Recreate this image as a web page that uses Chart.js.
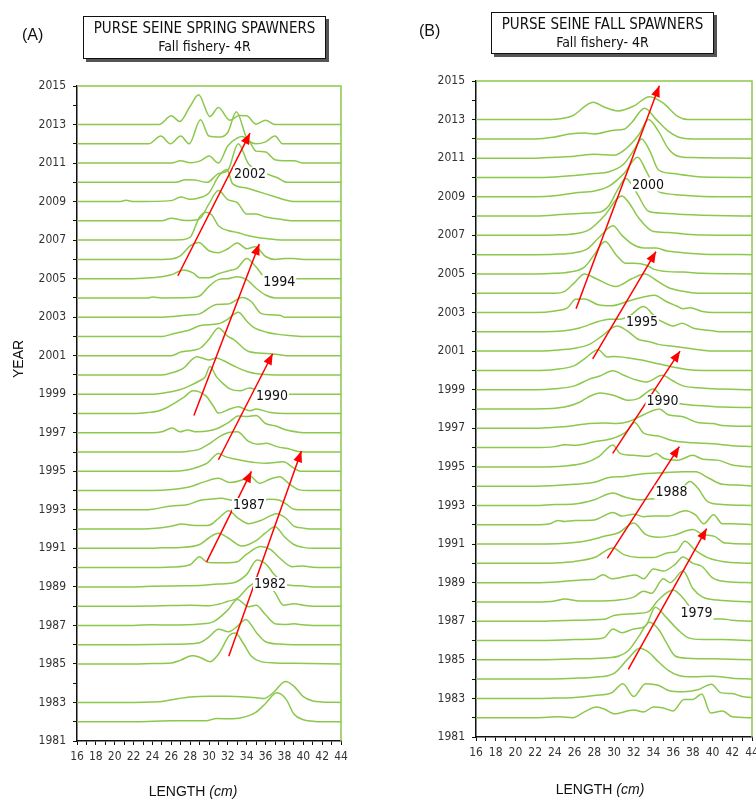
<!DOCTYPE html>
<html>
<head>
<meta charset="utf-8">
<script src="https://cdn.jsdelivr.net/npm/chart.js@4.4.1/dist/chart.umd.min.js"></script>
<style>
  body { margin: 0; background: #fff; }
  #page { position: relative; width: 756px; height: 800px; overflow: hidden; font-family: 'Liberation Sans', Arial, sans-serif; color: #111; }
  canvas { position: absolute; top: 0; }
  .tag { position: absolute; font-size: 16px; }
  .titlebox { position: absolute; border: 1.5px solid #111; background: #fff; box-shadow: 3px 3px 0 #555; text-align: center;
              font-family: 'Liberation Sans Narrow', 'DejaVu Sans Condensed', sans-serif; }
  .titlebox .l1 { font-size: 15px; margin-top: 2px; }
  .titlebox .l2 { font-size: 14px; margin-top: 1px; }
  .xlab { position: absolute; font-size: 14px; transform: translateX(-50%); white-space: nowrap; }
  .ylab { position: absolute; font-size: 14px; transform: rotate(-90deg); transform-origin: center; }
</style>
</head>
<body>
<div id="page">
  <canvas id="chartA" width="378" height="800" style="left:0"></canvas>
  <canvas id="chartB" width="378" height="800" style="left:378px"></canvas>

  <div class="tag" style="left:22px; top:26px">(A)</div>
  <div class="tag" style="left:419px; top:22px">(B)</div>

  <div class="titlebox" style="left:83px; top:16px; width:241px; height:41px">
    <div class="l1">PURSE SEINE SPRING SPAWNERS</div>
    <div class="l2">Fall fishery- 4R</div>
  </div>
  <div class="titlebox" style="left:491px; top:12px; width:221px; height:40px">
    <div class="l1">PURSE SEINE FALL SPAWNERS</div>
    <div class="l2">Fall fishery- 4R</div>
  </div>

  <div class="ylab" style="left:0px; top:352px; width:36px; text-align:center">YEAR</div>
  <div class="xlab" style="left:193px; top:783px">LENGTH <i>(cm)</i></div>
  <div class="xlab" style="left:600px; top:781px">LENGTH <i>(cm)</i></div>
</div>

<script>
// Length-frequency profiles: [length cm, height above the year baseline (in years)]

// Spring spawners
const A2013 = [[16,0],[24.7,0],[26,0.45],[26.9,0.16],[28,0.95],[28.9,1.54],[30.1,0.42],[31,0.88],[32.2,0.22],[33.2,0.47],[34,0.45],[35,0.02],[36,0.22],[37,0],[44,0]];
const A2012 = [[16,0],[23.6,0],[24.9,0.4],[25.9,0],[27,0.4],[27.9,0],[29.1,1.25],[30,0.4],[31.2,0.35],[32,0.6],[32.9,1.66],[34,0.3],[35,0],[36,0.1],[37,0.4],[37.8,0],[44,0]];
const A2011 = [[16,0],[26,0],[27,0.12],[28,0.02],[29,0.1],[30,0.36],[31,0],[32,0.9],[33,1.3],[33.5,1.38],[34.3,1.1],[35,0.62],[36,0.58],[37,0.17],[38,0.12],[39,0.12],[40,0],[44,0]];
const A2010 = [[16,0],[26.5,0],[27.5,0.14],[28.5,0.12],[29.8,0],[31,0.45],[32,0.62],[33.1,2.0],[34.2,0.95],[35.8,0.5],[37.2,0.25],[38.3,0],[44,0]];
const A2009 = [[16,0],[20.5,0],[21.2,0.07],[22,0],[26,0.05],[27,0.24],[28,0.12],[29,0.2],[30,0.45],[31,1.3],[31.9,1.66],[32.5,0.93],[34,0.7],[35,0.55],[36,0.4],[37,0.25],[38,0.1],[39,0],[44,0]];
const A2008 = [[16,0],[25,0],[26,0.14],[27,0.05],[28,0.02],[29,0.1],[30,0.88],[31,1.57],[32,1.1],[33,0.95],[34,0.35],[35,0.36],[36,0.2],[37,0.12],[38,0.05],[39,0],[44,0]];
const A2007 = [[16,0],[26,0],[27,0.02],[28,0.15],[29,1.2],[29.7,1.45],[30.3,1.3],[31,0.75],[32,0.5],[33,0.4],[34,0.25],[35,0.15],[36,0.08],[37,0.03],[38,0],[44,0]];
const A2006 = [[16,0],[25,0],[26,0.02],[27,0.2],[28,0.7],[28.9,0.87],[30,0.45],[31,0.35],[32,0.55],[33,0.85],[34,0.55],[34.9,0.65],[36,0.15],[37,0],[38,0.05],[39,0.05],[40,0],[44,0]];
const A2005 = [[16,0],[22,0],[23,0.02],[25,0.1],[26,0.2],[27.3,0.45],[28.3,0.3],[29,0.05],[30,0.05],[31,0.25],[32,0.4],[33,0.55],[34,1.05],[35,0.6],[36,0.05],[37,0],[44,0]];
const A2004 = [[16,0],[23.5,0],[24,0.05],[25,0],[28,0.02],[29,0.1],[30,0.6],[31,0.95],[32,1.0],[33,1.1],[34,0.95],[35,0.5],[36,0.15],[37,0],[44,0]];
const A2003 = [[16,0],[25,0],[26.5,0.05],[28.2,0.12],[29,0.17],[30.8,0.66],[32,0.68],[33.5,1.02],[34.5,0.8],[35.5,0.2],[36.5,0.12],[37.5,0.1],[38,0],[44,0]];
const A2002 = [[16,0],[25,0],[26.2,0.14],[28,0.35],[29.1,0.57],[31,0.66],[32,0.9],[33.1,1.26],[34,0.8],[34.7,0.48],[36.1,0.22],[37.2,0.12],[38.5,0.05],[40,0],[44,0]];
const A2001 = [[16,0],[26,0],[27,0.19],[28.3,0.28],[29.1,0.4],[30,0.85],[31,1.44],[32,1.0],[32.6,0.85],[34.2,0.22],[36.1,0.12],[37.5,0.05],[38.5,0],[44,0]];
const A2000 = [[16,0],[25,0],[26,0.1],[27.3,0.36],[28.7,0.95],[30,0.78],[30.8,0.88],[31.5,0.75],[32.6,0.48],[34.3,0.14],[36,0.02],[37,0],[44,0]];
const A1999 = [[16,0],[24,0],[25,0.05],[26.6,0.19],[28,0.45],[29,0.7],[29.6,0.9],[30.1,1.44],[30.8,0.9],[31.5,0.55],[32.2,0.28],[33.3,0.18],[34.3,0.33],[35.4,0.18],[36.5,0.05],[38,0],[44,0]];
const A1998 = [[16,0],[22,0],[23.5,0.05],[24.5,0.12],[25.5,0.3],[27.3,0.83],[28.3,1.18],[29.7,0.9],[30.5,0.35],[31,0.02],[32.2,0.23],[33.1,0.35],[34.3,0.14],[35,0.23],[36.5,0.05],[38,0],[44,0]];
const A1997 = [[16,0],[24,0],[25,0.05],[26.1,0.25],[26.9,0.05],[27.7,0.14],[28.7,0.05],[30,0.1],[31,0.25],[32.1,0.54],[33.1,0.87],[34.1,0.85],[35,0.9],[36,0.48],[37.1,0.35],[38.2,0.14],[39.5,0.03],[40.5,0],[44,0]];
const A1996 = [[16,0],[26,0],[27.7,0.03],[29,0.15],[30.1,0.45],[31.1,0.8],[32,1.0],[33,1.05],[34.2,0.55],[35.2,0.4],[36.1,0.45],[37.2,0.28],[38.6,0.15],[39.6,0.02],[44,0]];
const A1995 = [[16,0],[26,0],[27.7,0.07],[29,0.25],[29.8,0.42],[31,0.93],[31.8,0.75],[32.6,0.65],[34.2,0.5],[35,0.45],[36.1,0.42],[37.9,0.5],[39,0.16],[39.7,0],[44,0]];
const A1994 = [[16,0],[24,0],[26,0.05],[28,0.2],[29.5,0.45],[31,0.64],[32.2,0.42],[33.5,0.55],[34.3,0.75],[35.4,0.38],[36.5,0.6],[37.5,0.72],[38.5,0.35],[39.5,0.05],[40.5,0],[44,0]];
const A1993 = [[16,0],[23,0],[24,0.03],[26,0.2],[27.7,0.26],[29.1,0.5],[30,0.55],[31.3,0.6],[32.5,0.5],[33.5,0.55],[35,0.5],[36.5,0.55],[37.5,0.5],[38.2,0.3],[39,0.03],[40,0],[44,0]];
const A1992 = [[16,0],[22,0],[24,0.03],[26,0.15],[27.1,0.26],[28.5,0.18],[30,0.2],[31,0.55],[32.1,0.95],[33,0.6],[34.2,0.28],[35.5,0.45],[37.2,0.8],[38.2,0.55],[39,0.15],[40,0.05],[41,0],[44,0]];
const A1991 = [[16,0],[24,0],[25,0.03],[27,0.05],[29,0.2],[30,0.55],[31,0.78],[32,0.55],[33.5,0.12],[35,0.4],[36,0.8],[37,1.12],[38,0.6],[39,0.2],[40,0.05],[41,0],[44,0]];
const A1990 = [[16,0],[24,0],[26,0.03],[28,0.15],[29,0.57],[29.8,0.28],[31,0.25],[32,0.25],[33,0.3],[34,0.7],[35.5,1.09],[36.5,0.95],[37.5,0.5],[38.8,0.05],[40,0.08],[41,0.02],[42,0],[44,0]];
const A1989 = [[16,0],[22,0],[24,0.03],[26,0.05],[29,0.07],[31,0.15],[32.5,0.2],[34,0.65],[35.1,1.4],[36,1.2],[37,0.6],[38.3,0.1],[40,0.05],[41,0],[44,0]];
const A1988 = [[16,0],[22,0],[26,0.03],[28,0.05],[30,0.02],[31,0.1],[32,0.25],[33,0.4],[34.2,1.0],[35.3,1.28],[36.2,1.15],[37,0.7],[37.9,0.05],[39,0.12],[40,0.05],[41,0],[44,0]];
const A1987 = [[16,0],[22,0],[24,0.03],[26,0.02],[29,0.07],[30.5,0.2],[32,0.8],[33,1.35],[34.2,0.97],[35,1.05],[36,0.55],[37.1,0.07],[38,0.05],[39,0.08],[40,0.03],[41,0],[44,0]];
const A1986 = [[16,0],[22,0],[26,0.02],[28,0.05],[29,0.1],[30,0.4],[31,0.8],[32.1,0.67],[33,0.95],[33.9,1.31],[35,0.65],[36,0.15],[37.5,0.03],[39,0],[44,0]];
const A1985 = [[16,0],[22,0],[24,0.02],[26,0.05],[27,0.2],[28.2,0.42],[29,0.35],[30.1,0.12],[31,0.5],[32.2,1.5],[32.8,1.6],[33.6,1.1],[34.5,0.4],[35.5,0.12],[37,0.05],[39,0.03],[44,0]];
const A1983 = [[16,0],[22,0],[24,0.02],[25,0.05],[26.5,0.18],[28,0.28],[30,0.32],[32,0.32],[33.5,0.3],[35,0.25],[35.8,0.2],[36.8,0.5],[38.1,1.09],[39,0.85],[40,0.3],[41,0.08],[42,0.03],[44,0]];
const A1982 = [[16,0],[22,0],[24,0.02],[26,0.05],[28,0.05],[29.7,0.05],[30.8,0.17],[32.5,0.15],[34,0.28],[35,0.5],[36,0.95],[37.2,1.5],[38.2,1.15],[39,0.4],[40,0.1],[41,0.03],[42,0],[44,0]];

// Fall spawners
const B2013 = [[16,0],[23,0],[25,0.08],[25.8,0.2],[27.9,0.9],[29,0.65],[30.4,0.45],[32,0.7],[33.6,1.19],[35,0.85],[36.5,0.15],[37.5,0],[44,0]];
const B2012 = [[16,0],[22,0],[24,0.1],[25.5,0.25],[27,0.3],[28,0.25],[30,0.45],[31,0.5],[31.8,0.85],[33.1,1.59],[34.3,1.0],[35.5,0.4],[36.5,0.1],[38,0],[44,0]];
const B2011 = [[16,0],[22,0],[24,0.05],[26,0.1],[28,0.2],[30,0.15],[31,0.4],[32.5,1.2],[33.5,2.0],[34.5,1.4],[35.5,0.5],[36.5,0.1],[38,0.03],[44,0]];
const B2010 = [[16,0],[22,0],[24,0.03],[26,0.1],[28,0.2],[29.5,0.3],[31,0.7],[32,1.4],[32.8,2.0],[33.7,1.3],[34.5,0.4],[36,0.2],[37.5,0.1],[39,0.02],[44,0]];
const B2009 = [[16,0],[22,0],[24,0.05],[26,0.2],[28,0.3],[29.5,0.55],[31,1.2],[32.4,2.05],[33.3,1.3],[34.3,0.35],[35.5,0.15],[37,0.08],[39,0.02],[44,0]];
const B2008 = [[16,0],[22,0],[24,0.05],[25,0.1],[27,0.15],[28.5,0.2],[29.5,0.55],[30.4,1.4],[31.2,1.95],[32.3,1.2],[33.5,0.25],[35,0.15],[37,0.08],[44,0]];
const B2007 = [[16,0],[22,0],[24,0.02],[26,0.08],[27.5,0.3],[29,1.0],[30.8,2.04],[31.5,1.7],[32.5,0.9],[34,0.2],[35.5,0.15],[37,0.08],[39,0.02],[44,0]];
const B2006 = [[16,0],[22,0],[24,0.02],[26,0.1],[27.3,0.3],[28.5,0.9],[29.9,1.5],[30.8,1.0],[32,0.5],[33,0.35],[34.3,0.35],[35.3,0.2],[37,0.1],[39,0.02],[44,0]];
const B2005 = [[16,0],[22,0],[24,0.03],[25.5,0.1],[27,0.35],[28,1.0],[29.1,1.68],[30.2,1.0],[31.2,0.55],[32,0.55],[33.3,0.45],[34,0.25],[35.5,0.12],[37,0.1],[39,0.03],[44,0]];
const B2004 = [[16,0],[24,0],[25,0.1],[26,0.55],[27,1.0],[28.2,0.75],[30.2,0.35],[31.8,0.75],[33.1,1.0],[34.5,0.6],[35.5,0.3],[37,0.1],[38.5,0],[44,0]];
const B2003 = [[16,0],[22,0],[24,0.08],[25.3,0.25],[26.1,0.69],[27,0.7],[28.4,0.4],[29.7,0.35],[31.5,0.6],[33,0.8],[34.1,0.9],[35.2,0.6],[36.3,0.35],[37,0.2],[37.7,0.25],[39,0.05],[40,0],[44,0]];
const B2002 = [[16,0],[22,0],[25,0.05],[26.5,0.2],[28.5,0.55],[29.5,0.65],[30.5,0.65],[31.5,0.8],[33,1.31],[34.3,0.7],[35.2,0.45],[36,0.3],[36.9,0.45],[38,0.2],[40,0.05],[41,0],[44,0]];
const B2001 = [[16,0],[22,0],[24,0.05],[26,0.15],[27.5,0.35],[28.7,0.75],[30.3,1.3],[31.2,1.1],[32.5,0.6],[33.5,0.5],[34.5,0.35],[36,0.25],[37.5,0.15],[39,0.05],[40,0],[44,0]];
const B2000 = [[16,0],[22,0],[24,0.05],[26,0.25],[27,0.6],[28.4,1.07],[29.3,0.7],[30,0.72],[32.6,0.55],[34,0.4],[35.7,0.2],[37.4,0.05],[39,0],[44,0]];
const B1999 = [[16,0],[22,0],[24,0.05],[26,0.2],[27.5,0.55],[28.5,0.7],[29.9,0.98],[31,0.75],[32.3,0.5],[33.3,0.4],[34.9,0.75],[36,0.45],[37,0.2],[38.5,0.1],[40,0.05],[44,0]];
const B1998 = [[16,0],[22,0],[25,0.1],[26.5,0.35],[27.5,0.65],[28.6,0.83],[30,0.7],[31.5,0.45],[32.5,0.55],[34,1.04],[35,0.55],[36.5,0.3],[38,0.2],[39.5,0.15],[41,0.1],[44,0.08]];
const B1997 = [[16,0],[22,0],[24,0.05],[26,0.15],[27.5,0.25],[29,0.28],[30.3,0.25],[31.5,0.35],[33,0.7],[34.6,1.0],[35.5,0.7],[37,0.6],[38.5,0.3],[40,0.25],[41,0.15],[44,0.1]];
const B1996 = [[16,0],[22,0],[24,0.05],[25,0.15],[26,0.12],[28,0.3],[30,0.5],[31.2,0.8],[32.1,1.3],[33,0.75],[34.5,0.6],[36,0.35],[38,0.25],[40,0.2],[42,0.1],[44,0.05]];
const B1995 = [[16,0],[22,0],[25,0.05],[27,0.2],[28.5,0.55],[29.9,1.14],[30.6,0.7],[32,0.6],[33.5,0.55],[34.3,0.7],[35,0.45],[36.5,0.35],[38,0.6],[39,0.4],[40.5,0.35],[42,0.1],[44,0]];
const B1994 = [[16,0],[22,0],[26,0.1],[28,0.2],[29.5,0.45],[31,0.5],[33,0.65],[35,0.7],[37,0.75],[38.3,0.75],[39.5,0.45],[41,0.1],[43,0.05],[44,0]];
const B1993 = [[16,0],[22,0],[24,0.05],[26,0.08],[28,0.3],[29.9,0.65],[31,0.45],[32.5,0.3],[34,0.35],[35.5,0.4],[36.7,0.75],[37.7,1.24],[38.5,0.9],[39.5,0.2],[41,0.05],[44,0]];
const B1992 = [[16,0],[22,0],[23.5,0.05],[24.3,0.22],[25,0.17],[26,0.22],[28,0.25],[29.9,0.64],[30.8,0.45],[32,0.55],[33,0.42],[34,0.45],[35.5,0.45],[37.2,0.73],[38.3,0.5],[39.1,0.05],[40.1,0.52],[41,0.05],[42,0.05],[44,0]];
const B1991 = [[16,0],[22,0],[26,0.08],[27.5,0.2],[29,0.4],[30.5,0.6],[32,1.09],[33.2,0.5],[34.5,0.35],[36,0.45],[38,0.75],[39,0.5],[40.2,0.4],[41.3,0.05],[44,0]];
const B1990 = [[16,0],[22,0],[24,0.02],[26,0.1],[28,0.3],[29.9,0.8],[31,0.45],[32.5,0.3],[34,0.3],[35.5,0.55],[36.3,0.6],[37.2,1.14],[38.2,0.7],[39.5,0.3],[41,0.1],[44,0]];
const B1989 = [[16,0],[22,0],[24.5,0.05],[27,0.15],[28,0.18],[28.9,0.41],[29.8,0.2],[31,0.3],[32.2,0.4],[33,0.2],[34,0.71],[35,0.6],[36.2,0.95],[37,1.33],[38,1.0],[38.9,0.85],[40,0.25],[41.5,0.05],[44,0]];
const B1988 = [[16,0],[22,0],[24,0.05],[25,0.15],[26.5,0.05],[28,0.05],[30.5,0.1],[32,0.25],[33,0.55],[33.8,0.45],[35,1.2],[35.7,1.0],[37,1.6],[38,0.7],[39,0.25],[40.5,0.1],[44,0]];
const B1987 = [[16,0],[22,0],[26,0.05],[29,0.1],[30,0.3],[32.3,0.4],[33.5,0.5],[34.5,1.1],[36,1.62],[37,1.2],[38.3,0.35],[39.5,0.1],[41,0.12],[42,0.05],[44,0]];
const B1986 = [[16,0],[22,0],[26,0.05],[28,0.08],[29,0.15],[29.9,0.6],[30.8,0.4],[32,0.6],[33.2,0.75],[34.2,1.73],[35.3,1.2],[36.5,0.55],[37.5,0.15],[39,0.05],[41,0.05],[44,0]];
const B1985 = [[16,0],[22,0],[26,0.05],[29,0.1],[30.5,0.2],[31.5,0.5],[32.5,1.2],[33.6,1.95],[34.5,1.6],[35.3,0.9],[36.2,0.2],[37.5,0.08],[40,0.05],[44,0]];
const B1984 = [[16,0],[22,0],[26,0.05],[28,0.1],[30,0.3],[31.5,1.1],[32.6,1.6],[33.5,1.4],[34.5,0.9],[35.5,0.45],[36.5,0.2],[38,0.12],[40,0.15],[42,0.05],[44,0]];
const B1983 = [[16,0],[22,0],[24,0.02],[26,0.05],[28,0.15],[29.8,0.3],[30.9,0.76],[32,0.1],[33.2,0.76],[34.5,0.68],[35.6,0.4],[37,0.35],[38.5,0.45],[39.9,0.74],[40.8,0.3],[42,0.25],[43,0.1],[44,0.05]];
const B1982 = [[16,0],[22,0],[24.5,0.05],[25.8,0],[27,0.3],[28.2,0.55],[29,0.45],[30,0.2],[32,0.4],[33,0.3],[34,0.55],[35,0.5],[36,0.35],[37.1,0.95],[38,0.95],[38.9,1.23],[39.8,0.25],[41,0.35],[42,0.05],[44,0]];

const yearsA = [2013,2012,2011,2010,2009,2008,2007,2006,2005,2004,2003,2002,2001,2000,1999,1998,1997,1996,1995,1994,1993,1992,1991,1990,1989,1988,1987,1986,1985,1983,1982];
const profilesA = [A2013,A2012,A2011,A2010,A2009,A2008,A2007,A2006,A2005,A2004,A2003,A2002,A2001,A2000,A1999,A1998,A1997,A1996,A1995,A1994,A1993,A1992,A1991,A1990,A1989,A1988,A1987,A1986,A1985,A1983,A1982];
const yearsB = [2013,2012,2011,2010,2009,2008,2007,2006,2005,2004,2003,2002,2001,2000,1999,1998,1997,1996,1995,1994,1993,1992,1991,1990,1989,1988,1987,1986,1985,1984,1983,1982];
const profilesB = [B2013,B2012,B2011,B2010,B2009,B2008,B2007,B2006,B2005,B2004,B2003,B2002,B2001,B2000,B1999,B1998,B1997,B1996,B1995,B1994,B1993,B1992,B1991,B1990,B1989,B1988,B1987,B1986,B1985,B1984,B1983,B1982];

// Year-class arrows: [length start, year start, length end, year end]
const cohortsA = [[26.7,2005.15,34.35,2012.55],[28.4,1997.9,35.33,2006.8],[31.0,1995.6,36.75,2001.1],[29.75,1990.3,34.5,1995.0],[32.1,1985.4,39.8,1996.05]];
const cohortNamesA = ['2002','1994','1990','1987','1982'];
const cohortLabelAtA = [[34.35,2010.44],[37.45,2004.85],[36.68,1998.9],[34.24,1993.25],[36.47,1989.15]];

const cohortsB = [[26.15,2003.2,34.6,2014.75],[27.84,2000.6,34.26,2006.16],[29.87,1995.7,36.7,2001.0],[29.32,1990.26,36.63,1996.05],[31.45,1984.5,39.4,1991.8]];
const cohortNamesB = ['2000','1995','1990','1988','1979'];
const cohortLabelAtB = [[33.45,2009.64],[32.84,2002.5],[34.92,1998.4],[35.83,1993.68],[38.37,1987.43]];

const lineGreen = '#8cc84b';
const narrow = "'Liberation Sans Narrow', 'DejaVu Sans Condensed', sans-serif";

// green frame on the top and right edges of the plot
const frame = {
  id: 'frame',
  beforeDatasetsDraw(chart) {
    const {ctx, chartArea: a} = chart;
    ctx.save();
    ctx.strokeStyle = lineGreen;
    ctx.lineWidth = 1.5;
    ctx.beginPath();
    ctx.moveTo(a.left, a.top);
    ctx.lineTo(a.right, a.top);
    ctx.lineTo(a.right, a.bottom);
    ctx.stroke();
    ctx.restore();
  }
};

// arrow heads on the cohort lines and the year-class labels
const cohortNotes = {
  id: 'cohortNotes',
  afterDatasetsDraw(chart, args, opts) {
    const {ctx} = chart;
    const xs = chart.scales.x, ys = chart.scales.y;
    ctx.save();
    chart.data.datasets.forEach((ds, i) => {
      if (!ds.arrowHead) return;
      const pts = chart.getDatasetMeta(i).data;
      const p0 = pts[0], p1 = pts[pts.length - 1];
      const ang = Math.atan2(p1.y - p0.y, p1.x - p0.x);
      ctx.fillStyle = '#ff0000';
      ctx.beginPath();
      ctx.moveTo(p1.x, p1.y);
      ctx.lineTo(p1.x - 11 * Math.cos(ang) + 4.5 * Math.sin(ang), p1.y - 11 * Math.sin(ang) - 4.5 * Math.cos(ang));
      ctx.lineTo(p1.x - 11 * Math.cos(ang) - 4.5 * Math.sin(ang), p1.y - 11 * Math.sin(ang) + 4.5 * Math.cos(ang));
      ctx.closePath();
      ctx.fill();
    });
    ctx.font = '14px ' + narrow;
    ctx.textAlign = 'center';
    ctx.textBaseline = 'middle';
    opts.names.forEach((t, i) => {
      const x = xs.getPixelForValue(opts.at[i][0]);
      const y = ys.getPixelForValue(opts.at[i][1]);
      const w = ctx.measureText(t).width;
      ctx.fillStyle = '#fff';
      ctx.fillRect(x - w / 2 - 1, y - 7, w + 2, 14);
      ctx.fillStyle = '#111';
      ctx.fillText(t, x, y + 0.5);
    });
    ctx.restore();
  }
};

function buildChart(id, years, profiles, cohorts, names, at, padRight, padTop, leftW, bottomH) {
  const datasets = years.map((yr, i) => ({
    data: profiles[i].map(p => ({x: p[0], y: yr + p[1]})),
    borderColor: lineGreen,
    borderWidth: 1.5,
    pointRadius: 0,
    fill: false,
    cubicInterpolationMode: 'monotone'
  }));
  cohorts.forEach(c => datasets.push({
    data: [{x: c[0], y: c[1]}, {x: c[2], y: c[3]}],
    borderColor: '#ff0000',
    borderWidth: 1.5,
    pointRadius: 0,
    tension: 0,
    order: -1,
    arrowHead: true
  }));

  return new Chart(document.getElementById(id), {
    type: 'line',
    data: {datasets},
    plugins: [frame, cohortNotes],
    options: {
      responsive: false,
      animation: false,
      devicePixelRatio: 1,
      layout: {padding: {left: 0, right: padRight, top: padTop, bottom: 0}},
      plugins: {
        legend: {display: false},
        tooltip: {enabled: false},
        cohortNotes: {names, at}
      },
      scales: {
        x: {
          type: 'linear', min: 16, max: 44,
          afterFit: s => { s.height = bottomH; s.paddingLeft = 0; s.paddingRight = 0; },
          border: {color: '#111', width: 1.5},
          grid: {drawOnChartArea: false, color: '#111', tickLength: 4},
          ticks: {
            stepSize: 1, autoSkip: false, maxRotation: 0, padding: 5,
            color: '#333', font: {family: narrow, size: 12},
            callback: v => (v % 2 === 0 ? v : '')
          }
        },
        y: {
          type: 'linear', min: 1981, max: 2015,
          afterFit: s => { s.width = leftW; s.paddingTop = 0; s.paddingBottom = 0; },
          border: {color: '#111', width: 1.5},
          grid: {drawOnChartArea: false, color: '#111', tickLength: 4},
          ticks: {
            stepSize: 1, autoSkip: false, padding: 7,
            color: '#333', font: {family: narrow, size: 12},
            callback: v => (v % 2 === 1 ? String(v) : '')
          }
        }
      }
    }
  });
}

// left panel: plot spans x 77..341, y 86..741
buildChart('chartA', yearsA, profilesA, cohortsA, cohortNamesA, cohortLabelAtA, 37, 86, 77, 59);
// right panel: plot spans x 476..752 (98..374 in its canvas), y 81..737
buildChart('chartB', yearsB, profilesB, cohortsB, cohortNamesB, cohortLabelAtB, 4, 81, 98, 63);
</script>
</body>
</html>
